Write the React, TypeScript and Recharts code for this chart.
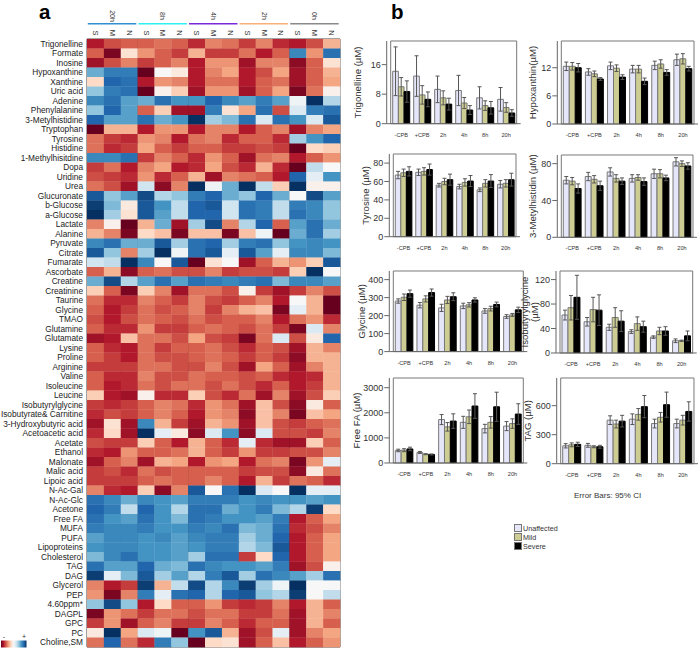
import { BarChart, Bar, ErrorBar, XAxis, YAxis, ScatterChart, Scatter, ReferenceLine, ReferenceArea } from "recharts";

const FONT = "'Liberation Sans', Arial, sans-serif";

// ---- panel a ----
const metabolites = [
  "Trigonelline", "Formate", "Inosine", "Hypoxanthine", "Xanthine", "Uric acid", "Adenine", "Phenylalanine",
  "3-Metylhistidine", "Tryptophan", "Tyrosine", "Histidine", "1-Methylhisitdine", "Dopa", "Uridine", "Urea",
  "Glucuronate", "b-Glucose", "a-Glucose", "Lactate", "Alanine", "Pyruvate", "Citrate", "Fumarate", "Ascorbate",
  "Creatine", "Creatinine", "Taurine", "Glycine", "TMAO", "Glutamine", "Glutamate", "Lysine", "Proline", "Arginine",
  "Valine", "Isoleucine", "Leucine", "Isobutyrylglycine", "Isobutyrate& Carnitine", "3-Hydroxybutyric acid",
  "Acetoacetic acid", "Acetate", "Ethanol", "Malonate", "Malic acid", "Lipoic acid", "N-Ac-Gal", "N-Ac-Glc", "Acetone",
  "Free FA", "MUFA", "PUFA", "Lipoproteins", "Cholesterol", "TAG", "DAG", "Glycerol", "PEP", "4.60ppm*", "DAGPL", "GPC",
  "PC", "Choline,SM",
];
const groups = ["20h", "8h", "4h", "2h", "0h"];
const groupColors = ["#2f8fd0", "#2ff0f0", "#7a28d8", "#f8b078", "#8a8a8a"];
const severities = ["S", "M", "N"];

// -10 = dark red, +10 = dark blue. Columns: S M N for 20h, 8h, 4h, 2h, 0h
const heatValues = [
  [-8, -6.5, -6, -6, -5.5, -6, -7.5, -5, -5.5, -7, -5, -7.5, -8, -6.5, -3.5],
  [-6, -9.5, -1.5, -4.5, -6, -7, -3.5, -7, -7, -5.5, -8, -6, 6.5, -4.5, 7.5],
  [-8.5, -6.5, -5, -7, -6, -5, -8, -4.5, -4.5, -8.5, -5, -5, -9, -6, -1.5],
  [5, 7, 7, -10, 0, -1, -8, -5, -4, -8, -6.5, -4, -8.5, -6, -3.5],
  [-2, 8, 7.5, -8, -4.5, -5, -8, -5.5, -5.5, -8, -6, -5.5, -8.5, -6, -4],
  [4, 7, 7.5, -10, -0.5, -2.5, -8.5, -4.5, -4.5, -8.5, -6, -4, -9.5, -5.5, -0.5],
  [6.5, 7.5, 5.5, 5, 7.5, 6, 6, 8, 6.5, 5.5, 7, 5.5, 0.5, 10, 3],
  [4, 8, 5.5, -6, -2.5, -8.5, -8.5, 7, -1.5, -4, 7.5, -6.5, 1.5, 7, 7.5],
  [8, 5.5, 5.5, 7.5, 5, 6, 10, 3.5, 4.5, 7.5, 1.5, 7.5, 6, 1.5, 8.5],
  [-10, -3.5, -3.5, -8, -4.5, -4.5, -8, -5, -5, -8, -6, -5, -8.5, -5, -4],
  [-5.5, -7, -7.5, -4.5, -5, -8, -5.5, -5, -7.5, -6, -6, -7.5, 3.5, 6, 8],
  [-5.5, -7.5, -7, -4, -6, -7, -6, -6, -7, -7, -6.5, -7, -10, -2, -2.5],
  [6.5, 6.5, 7.5, -7, -5, -6, -7.5, -4.5, -6, -8.5, -5.5, -5, -8, -6, -4.5],
  [-7, -5.5, -8, -5, -4, -8, -7.5, -4, -6.5, -7.5, -3.5, -7.5, -10, 2.5, 0],
  [-6.5, -7, -7.5, -4.5, -7.5, -6, -3.5, -8.5, -5, -5.5, -6, -8, 8, 1, 6],
  [-5.5, -6.5, -8.5, 2, -9, -5, 10, 0.5, 5, 10, 2.5, -2.5, 10, -0.5, -0.5],
  [8.5, 4, 5.5, 9, 3, 4, 7, 8, 5, 4, 8, 5, 0, 9, 5.5],
  [9.5, 4.5, -1, 8.5, 6, 2.5, 8, 8.5, 2, 7.5, 7, 2.5, 7, 6.5, 4],
  [10, 3.5, -1.5, 8.5, 5.5, 2.5, 8, 8, 2, 7.5, 7, 2.5, 7.5, 6.5, 4],
  [-5, -0.5, -10, -3.5, 5, -8.5, 3.5, 9, -5, 3, 8, -6, 5.5, 7.5, 5],
  [-3.5, -5, -9.5, -2, -3, -9.5, -3, -3, -9.5, -3, 0.5, -10, 5, 7.5, 3.5],
  [6.5, 7.5, 5, 5, 8.5, 3.5, 7.5, 8, 3.5, 7, 7.5, 4, 6, 6.5, 6],
  [8.5, 4, -5, 3.5, 10, 0.5, 7.5, 8.5, 1, 8.5, 5.5, 1, 6.5, 6.5, 4.5],
  [2, 2.5, 10, 6.5, 0, 8.5, -10, -1.5, 0, -8.5, -6, -3.5, -4.5, -2.5, 8.5],
  [-6, -3.5, -9, -6, -5.5, -6.5, -6.5, -5, -7, -6.5, -6.5, -7, -2.5, 10, 0],
  [5, 9, 3, 5.5, 7.5, 5.5, 7.5, 7, 6.5, 7, 7.5, 4.5, 6.5, 6.5, 5.5],
  [-2.5, -6, -9.5, -2.5, -5, -8.5, -5.5, -5.5, -6.5, -0.5, -7, -8.5, -7, -5, -6.5],
  [-5.5, -7.5, -7.5, -5, -6, -7, -5, -6.5, -7, -6, -5, -8, 0, -3.5, -10],
  [-6, -8, -7, -5.5, -6.5, -6, -5, -7, -5, -3.5, -3, -9.5, 1, -3.5, -10],
  [-6.5, -8, -6.5, -5.5, -6, -6.5, -5.5, -6.5, -6, -6, -5, -8, -5.5, -4.5, -7.5],
  [-6, -7.5, -7.5, -4.5, -7, -7, -6, -5.5, -6, -6.5, -5.5, -7, -9.5, 1.5, -5],
  [-8.5, -8, -3, -5.5, -5.5, -6.5, -4, -6.5, -7, -9.5, -5.5, 1.5, -6.5, -1, 8],
  [-6, -7.5, -8, -5.5, -7, -6, -6, -5.5, -6.5, -7.5, -6, -6.5, -8.5, -3.5, -5],
  [-6, -7, -8, -5.5, -6.5, -6.5, -6, -5.5, -6, -7, -6, -7, -9, -3.5, -3.5],
  [-7, -7, -7, -5.5, -5.5, -6.5, -6.5, -5, -6.5, -8.5, -4, -6, -8.5, -5, -3.5],
  [-6, -7.5, -7.5, -5, -6.5, -6.5, -5.5, -6, -6, -6.5, -6, -7.5, -8, -7.5, -3.5],
  [-6, -8, -7.5, -5.5, -6.5, -5.5, -5.5, -6.5, -5.5, -6.5, -7.5, -6, -8, -7, -3.5],
  [-2.5, -8, -8.5, -0.5, -7.5, -7.5, -2.5, -6.5, -7.5, -5.5, -8.5, -5, -8.5, -6.5, -2.5],
  [-7, -7.5, -7, -6, -5, -5.5, -7.5, -4.5, -5.5, -8.5, -3, -6.5, -9, -1, -6],
  [-7.5, -6.5, -7, -6, -5, -6, -8, -4.5, -5, -9, -3, -5, -9.5, -3, -4],
  [-8.5, -1.5, -8.5, 6.5, -3.5, -7, -8.5, -3.5, -4.5, -8.5, -3, -6.5, -7, -6, -5.5],
  [-7.5, -2, -8.5, 10, 1, -1, -9, 1.5, 6, -9, 1.5, -6.5, -6.5, -7, -5],
  [-6.5, -7, -7, -2.5, -6, -8, -3.5, -6, -7.5, 1, -7.5, -8.5, -8.5, -2.5, -6],
  [-7.5, -8, -4.5, -6, -6, -5.5, -3.5, -6, -7, -4.5, -7, -7, -6.5, -6.5, -5],
  [-8.5, -6, -5, -8.5, -3.5, -4, -8, -4.5, -4, -8, -5.5, -5, -9.5, -4.5, 1],
  [-7, -6.5, -7.5, -5.5, -6.5, -6, -6, -6, -6, -7, -6.5, -6.5, -9, -1, -5.5],
  [-7, -7, -7, -6, -5.5, -6, -6, -5, -6, -8, -3.5, -7, -5.5, -6, -7.5],
  [-5, -7.5, -8, -2.5, -9, -5, 8.5, 0, 7.5, 10, 1.5, 0, 10, 1, 1],
  [7.5, 6.5, 5, 6.5, 6, 5.5, 7, 7, 7, 6, 6.5, 6, 6, 5.5, 6],
  [8, 7, 2.5, 8, 6, 3, 7.5, 7.5, 5, 6, 7, 4.5, 3, 9.5, -2],
  [7.5, 6, 5.5, 7.5, 6, 4.5, 7.5, 7, 6, 6, 5.5, 7, -8, -6, -4],
  [7, 6.5, 6.5, 7, 6, 6, 7, 6.5, 7.5, 4.5, 5, 7.5, -7.5, -6.5, -5],
  [5.5, 6.5, 6.5, 6, 6.5, 5.5, 6.5, 7, 7, 3.5, 5, 8, -8, -6, -4],
  [6, 6.5, 6.5, 6, 6, 5.5, 6, 7, 7, 3, 4.5, 8.5, -8, -6, -4],
  [4.5, 6.5, 7.5, 6, 6, 5.5, 3.5, 7.5, 7.5, -7, -2, 8, -8, -6, -4],
  [7.5, 5.5, 5.5, 8, 5, 4.5, 7.5, 6.5, 6, 6, 5.5, 7, -8.5, -6.5, -0.5],
  [9.5, 1, 4.5, 8.5, 3.5, 5.5, 3, 7, 8.5, 3.5, 7.5, 6.5, 5.5, 3.5, 7.5],
  [-5, -8, -7, 9.5, -3.5, 2.5, 9, 3, 6.5, 9.5, 3.5, 0.5, 10, 0, 0],
  [-4.5, -9.5, -5, 7, 1, 7.5, 8, 3, 8, 8.5, 4, 3, 9.5, 0, 2.5],
  [4, 9, 4, -8, -2, -6, -6, -4.5, -7, -7.5, -7, -5, -8, -3.5, -6],
  [-9.5, -4.5, -5.5, -7, -5.5, -5.5, -6.5, -5.5, -5.5, -7, -7, -5.5, -8.5, -3.5, -5],
  [-7, -4.5, -8.5, -6, -5, -7, -7, -5, -6, -7.5, -6, -6, -8.5, -3.5, -6],
  [-1, 10, -4, 1.5, 0.5, -10, 6, 8.5, -3.5, -8.5, -6.5, 1, -8.5, -5, -4],
  [-5.5, 8, -5.5, -7.5, 7, 4, -10, -2, -1.5, -8.5, -6, -3, -8, -6, -4.5],
];

const rdBu = ["#67001f", "#b2182b", "#d6604d", "#f4a582", "#fddbc7", "#f7f7f7", "#d1e5f0", "#92c5de", "#4393c3", "#2166ac", "#053061"];

const hex = (c: string, i: number) => parseInt(c.slice(1 + i * 2, 3 + i * 2), 16);

// value in -10..10 to a colour on the red-blue ramp
const heatColor = (v: number) => {
  const t = ((v + 10) / 20) * (rdBu.length - 1);
  const i = Math.min(Math.floor(t), rdBu.length - 2);
  const f = t - i;
  const ch = [0, 1, 2].map((k) => Math.round(hex(rdBu[i], k) * (1 - f) + hex(rdBu[i + 1], k) * f));
  return `rgb(${ch[0]},${ch[1]},${ch[2]})`;
};

const heatCells = heatValues.flatMap((row, r) => row.map((value, c) => ({ col: c, row: r, value })));

const CELL_W = 253 / 15;
const CELL_H = 608 / 64;

const HeatCell = (props: any) => {
  const { cx, cy, payload } = props;
  return (
    <rect
      x={cx - CELL_W / 2}
      y={cy - CELL_H / 2}
      width={CELL_W + 0.3}
      height={CELL_H + 0.3}
      fill={heatColor(payload.value)}
    />
  );
};

const HeaderTick = (props: any) => {
  const { x, payload } = props;
  const col = payload.value as number;
  const group = Math.floor(col / 3);
  const mid = col % 3 === 1;
  return (
    <g fontFamily={FONT} fill="#333">
      <text x={x} y={33} fontSize={7.5} textAnchor="middle" dominantBaseline="central" transform={`rotate(90 ${x} 33)`}>
        {severities[col % 3]}
      </text>
      {mid && (
        <>
          <text x={x} y={16} fontSize={7} textAnchor="middle" dominantBaseline="central" transform={`rotate(90 ${x} 16)`}>
            {groups[group]}
          </text>
          <line x1={x - 24.5} x2={x + 24} y1={23.7} y2={23.7} stroke={groupColors[group]} strokeWidth={1.6} />
        </>
      )}
    </g>
  );
};

// recharts wraps long tick text on its own, so the row names are drawn as one plain text
const RowTick = (props: any) => {
  const { y, payload } = props;
  return (
    <text x={83} y={y} fontSize={8.3} fontFamily={FONT} fill="#222" textAnchor="end" dominantBaseline="central">
      {metabolites[payload.value]}
    </text>
  );
};

function Heatmap() {
  return (
    <div style={{ position: "absolute", left: 0, top: 0 }}>
      <ScatterChart width={345} height={649} margin={{ top: 0, right: 5, bottom: 2, left: 0 }}>
        <XAxis
          xAxisId={0}
          type="number"
          dataKey="col"
          orientation="top"
          height={39}
          domain={[-0.5, 14.5]}
          ticks={heatValues[0].map((_, i) => i)}
          interval={0}
          axisLine={false}
          tickLine={false}
          tick={<HeaderTick />}
        />
        <YAxis
          yAxisId={0}
          type="number"
          dataKey="row"
          reversed
          width={87}
          domain={[-0.5, 63.5]}
          ticks={metabolites.map((_, i) => i)}
          interval={0}
          axisLine={false}
          tickLine={false}
          tick={<RowTick />}
        />
        <Scatter data={heatCells} isAnimationActive={false} shape={<HeatCell />} />
        <ReferenceArea x1={-0.5} x2={14.5} y1={-0.5} y2={63.5} fill="none" stroke="#444" strokeWidth={1} />
        {[2.5, 5.5, 8.5, 11.5].map((x) => (
          <ReferenceLine key={x} x={x} stroke="#222" strokeWidth={1.5} />
        ))}
      </ScatterChart>
    </div>
  );
}

// ---- panel b ----
const timepoints = ["-CPB", "+CPB", "2h", "4h", "8h", "20h"];

const trigonellineU = [14.2, 12.9, 9.3, 9, 7, 6.6];
const trigonellineM = [10, 7.8, 7, 5.6, 4.9, 4.4];
const trigonellineS = [8.7, 6.6, 5.3, 3.7, 4.3, 2.9];
const trigonellineErr = [[6.6, 5.5, 3.6, 4.1, 3, 3.2], [2.5, 2.5, 1.9, 1.5, 1.3, 1.3], [2.9, 2, 1.6, 1.2, 1.7, 0.9]];

const hypoxanthinU = [12.3, 11.1, 12.4, 11.7, 12.5, 13.7];
const hypoxanthinM = [12.3, 10.7, 11.9, 11.7, 12.8, 13.9];
const hypoxanthinS = [12, 9.6, 10, 9.1, 11, 11.8];
const hypoxanthinErr = [[0.9, 0.7, 0.8, 0.8, 0.9, 1.2], [0.8, 0.6, 0.7, 0.8, 0.9, 1.1], [0.9, 0.3, 0.5, 0.7, 0.6, 0.5]];

const tyrosineU = [67, 70, 56, 54.5, 51, 57];
const tyrosineM = [69.5, 71, 60, 59, 58, 58];
const tyrosineS = [71, 73, 62, 60.5, 60.5, 62];
const tyrosineErr = [[4, 3.5, 2, 2.5, 2, 4], [4, 4, 3.5, 4, 4, 4], [5, 6, 6, 6, 7, 7]];

const metylhistidinU = [62, 66, 71, 64, 69, 82];
const metylhistidinM = [61, 63, 64, 65, 69, 80];
const metylhistidinS = [53, 56, 61, 60.5, 64.5, 77.5];
const metylhistidinErr = [[4, 4.5, 4.5, 4, 5, 4.5], [4, 4, 4, 3, 4.5, 3], [5, 5, 3.5, 4, 3, 3.5]];

const glycineU = [281, 258, 243, 254, 226, 195];
const glycineM = [302, 293, 287, 260, 239, 204];
const glycineS = [322, 328, 305, 287, 262, 232];
const glycineErr = [[12, 15, 20, 15, 13, 10], [18, 17, 20, 12, 13, 8], [20, 20, 22, 12, 13, 15]];

const isobutyrylU = [62, 51, 42, 35, 26, 20];
const isobutyrylM = [74, 71, 58, 48, 36, 20];
const isobutyrylS = [91, 70, 52, 43, 36, 28];
const isobutyrylErr = [[8, 7, 5, 3, 2, 3], [20, 20, 16, 11, 6, 1], [36, 25, 17, 9, 7, 8]];

const freeFaU = [500, 420, 1730, 1620, 1370, 1470];
const freeFaM = [510, 350, 1440, 1840, 1620, 1570];
const freeFaS = [560, 340, 1670, 2270, 2240, 1950];
const freeFaErr = [[50, 40, 200, 240, 170, 180], [60, 20, 170, 270, 230, 190], [70, 20, 290, 490, 580, 410]];

const tagU = [185, 190, 450, 460, 415, 415];
const tagM = [195, 175, 410, 510, 480, 450];
const tagS = [200, 175, 440, 590, 610, 540];
const tagErr = [[22, 20, 45, 55, 45, 45], [20, 10, 40, 60, 50, 50], [22, 15, 60, 115, 130, 100]];

const toRows = (u: number[], m: number[], s: number[], err: number[][]) =>
  timepoints.map((name, i) => ({
    name,
    u: u[i],
    m: m[i],
    s: s[i],
    uErr: err[0][i],
    mErr: err[1][i],
    sErr: err[2][i],
  }));

const LIGHT = "#e6e6fa";
const KHAKI = "#cdcd93";

interface PanelProps {
  rows: ReturnType<typeof toRows>;
  title: string[];
  labelX: number;
  box: [number, number, number, number];
  yMax: number;
  ticks: number[];
}

function Panel({ rows, title, labelX, box, yMax, ticks }: PanelProps) {
  const [x0, y0, x1, y1] = box;
  const leftPad = x0 - 352;
  const w = x1 - x0;
  const h = y1 - y0;
  const band = (w - 8) / 6;
  return (
    <div style={{ position: "absolute", left: 352, top: y0 - 2 }}>
      <BarChart
        width={leftPad + w + 2}
        height={h + 18}
        data={rows}
        barGap={0}
        barCategoryGap="10%"
        margin={{ top: 2, right: 2, bottom: 0, left: 0 }}
      >
        <XAxis
          dataKey="name"
          height={16}
          interval={0}
          padding={{ left: 4, right: 4 }}
          tickLine={false}
          tickMargin={3}
          stroke="#666"
          tick={{ fontSize: 5.6, fontFamily: FONT, fill: "#333" }}
        />
        <YAxis
          width={leftPad}
          domain={[0, yMax]}
          ticks={ticks}
          interval={0}
          allowDataOverflow
          tickSize={5}
          tickMargin={1}
          stroke="#666"
          tick={{ fontSize: 9, fontFamily: FONT, fill: "#333" }}
          label={{
            content: () => (
              <text
                fontFamily={FONT}
                fontSize={9.6}
                fill="#333"
                textAnchor="middle"
                transform={`translate(${labelX - 352} ${2 + h / 2}) rotate(-90)`}
              >
                {title.map((line, i) => (
                  <tspan key={line} x={0} dy={i === 0 ? 3 - (title.length - 1) * 5 : 10}>
                    {line}
                  </tspan>
                ))}
              </text>
            ),
          }}
        />
        <ReferenceArea y1={0} y2={yMax} fill="none" stroke="#777" />
        <Bar dataKey="u" barSize={band / 3.7} fill={LIGHT} stroke="#777" isAnimationActive={false}>
          <ErrorBar dataKey="uErr" direction="y" width={2} stroke="#555" strokeWidth={1} />
        </Bar>
        <Bar dataKey="m" barSize={band / 3.7} fill={KHAKI} stroke="#777" isAnimationActive={false}>
          <ErrorBar dataKey="mErr" direction="y" width={2} stroke="#555" strokeWidth={1} />
        </Bar>
        <Bar dataKey="s" barSize={band / 3.7} fill="#000" stroke="#000" isAnimationActive={false}>
          <ErrorBar dataKey="sErr" direction="y" width={2} stroke="#555" strokeWidth={1} />
        </Bar>
      </BarChart>
    </div>
  );
}

const legendItems = [
  { name: "Unaffected", color: LIGHT, y: 524 },
  { name: "Mild", color: KHAKI, y: 533 },
  { name: "Severe", color: "#000", y: 542 },
];

const textAt = (left: number, top: number, size: number, extra = {}) => ({
  position: "absolute" as const,
  left,
  top,
  fontSize: size,
  fontFamily: FONT,
  color: "#333",
  lineHeight: 1,
  whiteSpace: "nowrap" as const,
  ...extra,
});

export default function App() {
  return (
    <div style={{ position: "absolute", left: 0, top: 0, width: 700, height: 649, background: "#fff", overflow: "hidden" }}>
      <Heatmap />

      <div style={textAt(39, 1.5, 20.5)}><span style={{ fontWeight: 700, color: "#000" }}>a</span></div>
      <div style={textAt(391, 1.5, 20.5)}><span style={{ fontWeight: 700, color: "#000" }}>b</span></div>

      {/* colour key */}
      <svg style={{ position: "absolute", left: 1, top: 632 }} width={28} height={17}>
        <defs>
          <linearGradient id="rdbu">
            {rdBu.map((c, i) => (
              <stop key={c} offset={i / (rdBu.length - 1)} stopColor={c} />
            ))}
          </linearGradient>
        </defs>
        <rect x={0} y={8.5} width={25.5} height={7} fill="url(#rdbu)" />
        <text x={3} y={7} fontSize={7} fontFamily={FONT} textAnchor="middle" fill="#333">-</text>
        <text x={23} y={7} fontSize={7} fontFamily={FONT} textAnchor="middle" fill="#333">+</text>
      </svg>

      <Panel rows={toRows(trigonellineU, trigonellineM, trigonellineS, trigonellineErr)} title={["Trigonelline (µM)"]} labelX={358} box={[386.7, 41.3, 520.7, 124]} yMax={22.4} ticks={[0, 8, 16]} />
      <Panel rows={toRows(hypoxanthinU, hypoxanthinM, hypoxanthinS, hypoxanthinErr)} title={["Hypoxanthin(µM)"]} labelX={533} box={[557.3, 41.3, 698, 124.3]} yMax={17.7} ticks={[0, 6, 12]} />
      <Panel rows={toRows(tyrosineU, tyrosineM, tyrosineS, tyrosineErr)} title={["Tyrosine (µM)"]} labelX={366} box={[389.3, 154.3, 520, 237]} yMax={89.9} ticks={[0, 20, 40, 60, 80]} />
      <Panel rows={toRows(metylhistidinU, metylhistidinM, metylhistidinS, metylhistidinErr)} title={["3-Metylhistidin (µM)"]} labelX={533} box={[557.3, 154.7, 697, 237]} yMax={89.4} ticks={[0, 40, 80]} />
      <Panel rows={toRows(glycineU, glycineM, glycineS, glycineErr)} title={["Glycine (µM)"]} labelX={362} box={[389.3, 270.7, 527.3, 351.3]} yMax={448} ticks={[0, 100, 200, 300, 400]} />
      <Panel rows={toRows(isobutyrylU, isobutyrylM, isobutyrylS, isobutyrylErr)} title={["Isobutyrylglycine", "(µM)"]} labelX={530} box={[556, 270.7, 696.7, 352.7]} yMax={134} ticks={[0, 40, 80, 120]} />
      <Panel rows={toRows(freeFaU, freeFaM, freeFaS, freeFaErr)} title={["Free FA (µM)"]} labelX={357} box={[389.3, 378.3, 527.3, 463.3]} yMax={3386} ticks={[0, 1000, 2000, 3000]} />
      <Panel rows={toRows(tagU, tagM, tagS, tagErr)} title={["TAG (µM)"]} labelX={528} box={[556.7, 378.3, 698, 464]} yMax={886} ticks={[0, 300, 600]} />

      <div style={textAt(574, 492, 8)}>Error Bars: 95% CI</div>

      {legendItems.map((item) => (
        <div key={item.name}>
          <div
            style={{
              position: "absolute",
              left: 514,
              top: item.y,
              width: 5.5,
              height: 5.5,
              background: item.color,
              border: "1px solid #777",
            }}
          />
          <div style={textAt(523, item.y + 0.5, 7.2)}>{item.name}</div>
        </div>
      ))}
    </div>
  );
}
